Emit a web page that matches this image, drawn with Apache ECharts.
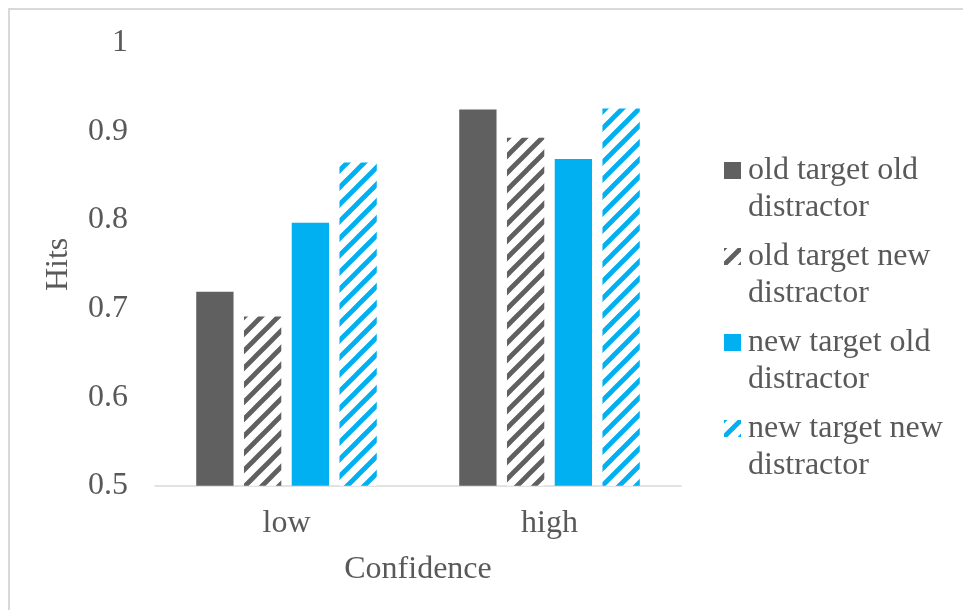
<!DOCTYPE html>
<html>
<head>
<meta charset="utf-8">
<script src="https://cdn.jsdelivr.net/npm/echarts@6/dist/echarts.min.js"></script>
<style>
html,body{margin:0;padding:0;background:#fff;overflow:hidden;}
#chart{width:963px;height:610px;}
</style>
</head>
<body>
<div id="chart"></div>
<script>
const categories = ['low', 'high'];
const seriesNames = ['old target old distractor', 'old target new distractor', 'new target old distractor', 'new target new distractor'];
const oldTargetOldDistractor = [0.719, 0.925];
const oldTargetNewDistractor = [0.691, 0.893];
const newTargetOldDistractor = [0.797, 0.869];
const newTargetNewDistractor = [0.865, 0.926];
const yTicks = [0.5, 0.6, 0.7, 0.8, 0.9, 1];

const GRAY = '#606060';
const BLUE = '#00B0F0';
const TEXT = '#595959';
const FONT = '"Liberation Serif", "Times New Roman", serif';

function hatch(color) {
  const P = 17;
  const c = document.createElement('canvas');
  c.width = P; c.height = P;
  const ctx = c.getContext('2d');
  ctx.fillStyle = '#ffffff';
  ctx.fillRect(0, 0, P, P);
  ctx.strokeStyle = color;
  ctx.lineWidth = 4.8;
  ctx.beginPath();
  ctx.moveTo(-P * 0.5, P * 0.5); ctx.lineTo(P * 0.5, -P * 0.5);
  ctx.moveTo(0, P); ctx.lineTo(P, 0);
  ctx.moveTo(P * 0.5, P * 1.5); ctx.lineTo(P * 1.5, P * 0.5);
  ctx.stroke();
  return { image: c, repeat: 'repeat' };
}

const fills = [GRAY, hatch(GRAY), BLUE, hatch(BLUE)];
const dataSets = [oldTargetOldDistractor, oldTargetNewDistractor, newTargetOldDistractor, newTargetNewDistractor];

const chart = echarts.init(document.getElementById('chart'), null, { renderer: 'canvas' });
chart.setOption({
  backgroundColor: '#ffffff',
  animation: false,
  graphic: [{
    type: 'rect',
    shape: { x: 9, y: 9, width: 1200, height: 900 },
    style: { fill: 'none', stroke: '#d9d9d9', lineWidth: 2 },
    silent: true
  }],
  grid: { left: 155, right: 282, top: 43, bottom: 124.3, containLabel: false },
  legend: {
    orient: 'vertical',
    left: 724,
    top: 115,
    padding: 0,
    icon: 'rect',
    itemWidth: 17,
    itemHeight: 17,
    itemGap: -25,
    data: seriesNames,
    formatter: function (name) { return ' \n' + name.replace(' distractor', '\ndistractor'); },
    textStyle: { color: TEXT, fontFamily: FONT, fontSize: 32, lineHeight: 37, padding: [0, 0, 0, 2] }
  },
  xAxis: {
    type: 'category',
    data: categories,
    name: 'Confidence',
    nameLocation: 'middle',
    nameGap: 68,
    nameTextStyle: { color: TEXT, fontFamily: FONT, fontSize: 32 },
    axisLine: { show: true, lineStyle: { color: '#d9d9d9', width: 1.5 } },
    axisTick: { show: false },
    axisLabel: { color: TEXT, fontFamily: FONT, fontSize: 32, margin: 22 }
  },
  yAxis: {
    type: 'value',
    min: yTicks[0],
    max: yTicks[yTicks.length - 1],
    interval: 0.1,
    name: 'Hits',
    nameLocation: 'middle',
    nameGap: 80,
    nameTextStyle: { color: TEXT, fontFamily: FONT, fontSize: 32 },
    axisLine: { show: false },
    axisTick: { show: false },
    splitLine: { show: false },
    axisLabel: {
      color: TEXT, fontFamily: FONT, fontSize: 32, margin: 27,
      formatter: function (v) { return String(Math.round(v * 10) / 10); }
    }
  },
  series: seriesNames.map(function (n, i) {
    return {
      name: n,
      type: 'bar',
      data: dataSets[i],
      barWidth: 37.3,
      barGap: '28%',
      itemStyle: { color: fills[i] }
    };
  })
});
</script>
</body>
</html>
